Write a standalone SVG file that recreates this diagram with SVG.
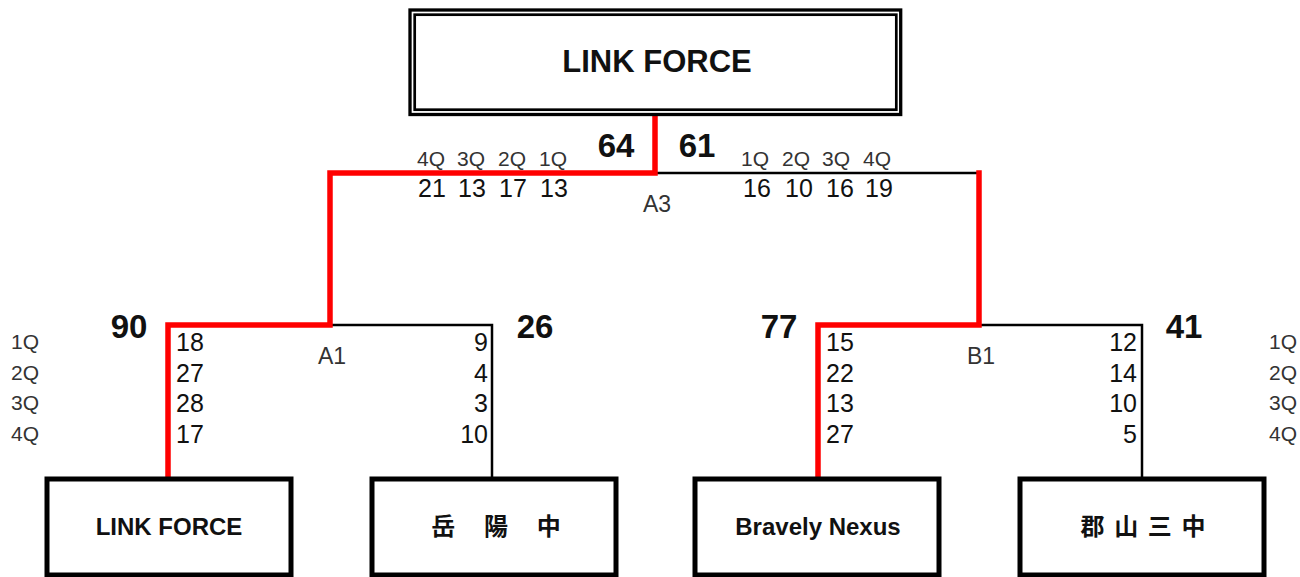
<svg xmlns="http://www.w3.org/2000/svg" width="1300" height="577" viewBox="0 0 1300 577">
<style>
.box{fill:#fff;stroke:#000;stroke-width:5}
.name{font-family:"Liberation Sans","Noto Sans CJK JP",sans-serif;font-weight:bold;font-size:24px;fill:#111;text-anchor:middle}
.big{font-family:"Liberation Sans",sans-serif;font-weight:bold;font-size:33px;fill:#111;text-anchor:middle}
.q{font-family:"Liberation Sans",sans-serif;font-size:21px;fill:#333;text-anchor:middle}
.s{font-family:"Liberation Sans",sans-serif;font-size:25px;fill:#111}
.lbl{font-family:"Liberation Sans",sans-serif;font-size:23px;fill:#333;text-anchor:middle}
.blk{fill:none;stroke:#000;stroke-width:2.5}
.red{fill:none;stroke:#f00;stroke-width:5.5;stroke-linejoin:miter;stroke-linecap:square}
</style>
<g id="connectors">
<polyline class="blk" points="656,173 979,173"/>
<polyline class="blk" points="330,325 492,325 492,479"/>
<polyline class="blk" points="979,325 1142,325 1142,479"/>
<polyline class="red" points="655,116 655,173 330,173 330,325 168,325 168,477"/>
<polyline class="red" points="979,173 979,325 818,325 818,477"/>
</g>
<g id="final">
<rect x="410" y="10" width="490.7" height="104.5" fill="#fff" stroke="#000" stroke-width="3.3"/>
<rect x="414.7" y="14.7" width="481.6" height="95" fill="none" stroke="#000" stroke-width="2.7"/>
<text x="657" y="72" font-family="Liberation Sans,sans-serif" font-weight="bold" font-size="31" fill="#111" text-anchor="middle">LINK FORCE</text>
</g>
<g id="team1">
<rect class="box" x="47" y="479" width="244" height="96"/>
<text class="name" x="169" y="535">LINK FORCE</text>
</g>
<g id="team2">
<rect class="box" x="372" y="479" width="244" height="96"/>
<text class="name" x="496" y="535" word-spacing="22" font-size="22">岳 陽 中</text>
</g>
<g id="team3">
<rect class="box" x="695" y="479" width="244" height="96"/>
<text class="name" x="818" y="535">Bravely Nexus</text>
</g>
<g id="team4">
<rect class="box" x="1020" y="479" width="244" height="96"/>
<text class="name" x="1143" y="535" word-spacing="3" font-size="22">郡 山 三 中</text>
</g>
<g id="scores-A3">
<text class="big" x="616" y="157">64</text>
<text class="big" x="697" y="157">61</text>
<text class="q" x="431" y="166">4Q</text>
<text class="q" x="471" y="166">3Q</text>
<text class="q" x="512" y="166">2Q</text>
<text class="q" x="553" y="166">1Q</text>
<text class="q" x="755" y="166">1Q</text>
<text class="q" x="796" y="166">2Q</text>
<text class="q" x="836" y="166">3Q</text>
<text class="q" x="877" y="166">4Q</text>
<g class="s" text-anchor="middle">
<text x="432" y="197">21</text>
<text x="472" y="197">13</text>
<text x="513" y="197">17</text>
<text x="554" y="197">13</text>
<text x="757" y="197">16</text>
<text x="799" y="197">10</text>
<text x="840" y="197">16</text>
<text x="879" y="197">19</text>
</g>
<text class="lbl" x="657" y="212">A3</text>
</g>
<g id="scores-A1">
<text class="big" x="129" y="338">90</text>
<text class="big" x="535" y="338">26</text>
<text class="lbl" x="332" y="364">A1</text>
<g class="s">
<text x="176" y="351">18</text>
<text x="176" y="382">27</text>
<text x="176" y="412">28</text>
<text x="176" y="443">17</text>
</g>
<g class="s" text-anchor="end">
<text x="488" y="351">9</text>
<text x="488" y="382">4</text>
<text x="488" y="412">3</text>
<text x="488" y="443">10</text>
</g>
<text class="q" x="25" y="349">1Q</text>
<text class="q" x="25" y="380">2Q</text>
<text class="q" x="25" y="410">3Q</text>
<text class="q" x="25" y="441">4Q</text>
</g>
<g id="scores-B1">
<text class="big" x="779" y="338">77</text>
<text class="big" x="1184" y="338">41</text>
<text class="lbl" x="981" y="364">B1</text>
<g class="s">
<text x="826" y="351">15</text>
<text x="826" y="382">22</text>
<text x="826" y="412">13</text>
<text x="826" y="443">27</text>
</g>
<g class="s" text-anchor="end">
<text x="1137" y="351">12</text>
<text x="1137" y="382">14</text>
<text x="1137" y="412">10</text>
<text x="1137" y="443">5</text>
</g>
<text class="q" x="1283" y="349">1Q</text>
<text class="q" x="1283" y="380">2Q</text>
<text class="q" x="1283" y="410">3Q</text>
<text class="q" x="1283" y="441">4Q</text>
</g>
</svg>
